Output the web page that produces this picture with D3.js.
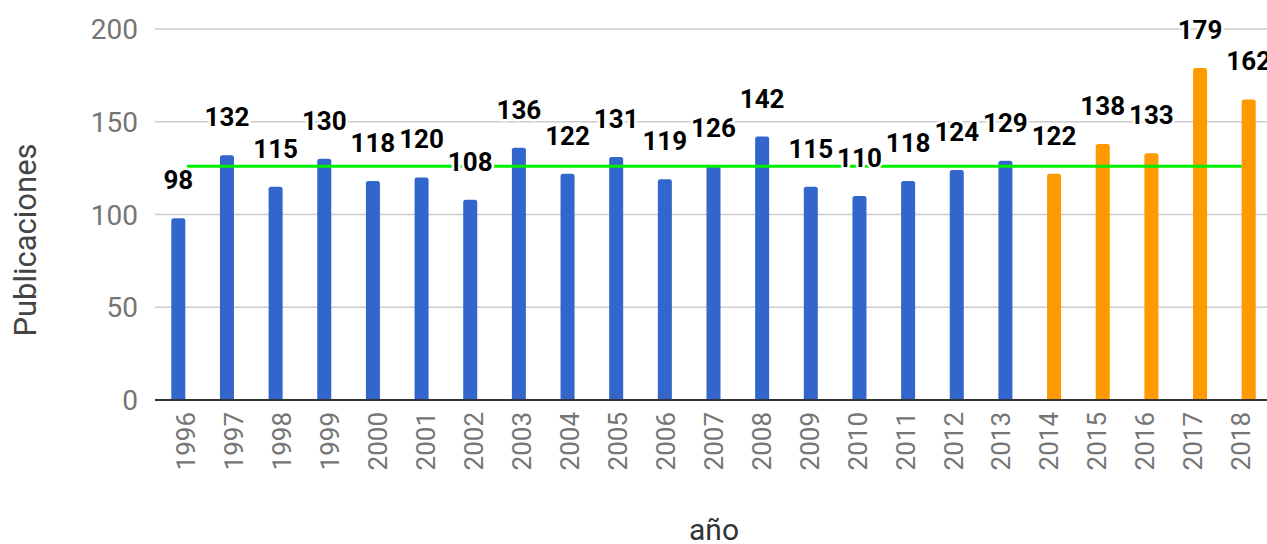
<!DOCTYPE html>
<html>
<head>
<meta charset="utf-8">
<script src="https://cdn.jsdelivr.net/npm/d3@7"></script>
<style>
  body { margin: 0; background: #fff; }
  svg { display: block; font-family: Roboto, "Liberation Sans", Arial, sans-serif; }
</style>
</head>
<body>
<svg id="chart"></svg>
<script>
// data
var years = ["1996","1997","1998","1999","2000","2001","2002","2003","2004","2005","2006",
             "2007","2008","2009","2010","2011","2012","2013","2014","2015","2016","2017","2018"]
var publicaciones = [98,132,115,130,118,120,108,136,122,131,119,126,142,115,110,118,124,129,122,138,133,179,162]
var orangeFrom = "2014"      // years from here on are drawn orange
var promedio = 126           // green horizontal line
var yTicks = [0, 50, 100, 150, 200]

var dimensions = {
    width: 1267,
    height: 544,
    margin: { top: 29, bottom: 144, left: 155, right: 0 }
}

var svg = d3.select("#chart")
            .attr("width", dimensions.width)
            .attr("height", dimensions.height)

var yScale = d3.scaleLinear()
               .domain([0, 200])
               .range([dimensions.height - dimensions.margin.bottom, dimensions.margin.top])

var xScale = d3.scaleBand()
               .domain(years)
               .range([153, 1274])
               .paddingInner(0.712)
               .paddingOuter(0.376)

// year labels sit a little closer together than the bars
var xLabelScale = d3.scalePoint()
                    .domain(years)
                    .range([185.5, 1241])

// gridlines + y labels
var grid = svg.append("g")
grid.selectAll("line")
    .data(yTicks.filter(d => d != 0))
    .enter()
    .append("line")
    .attr("x1", dimensions.margin.left)
    .attr("x2", dimensions.width)
    .attr("y1", d => yScale(d))
    .attr("y2", d => yScale(d))
    .attr("stroke", "#cccccc")
    .attr("stroke-width", 1.5)

grid.selectAll("text")
    .data(yTicks)
    .enter()
    .append("text")
    .attr("x", 138)
    .attr("y", d => yScale(d))
    .attr("dy", "0.36em")
    .attr("text-anchor", "end")
    .attr("fill", "#757575")
    .style("font-size", "28px")
    .text(d => d)

// bars with slightly rounded tops
function barPath(d, i){
    var x0 = xScale(years[i]), w = xScale.bandwidth()
    var y0 = yScale(0), y1 = yScale(d), r = 2.5
    return "M" + x0 + "," + y0 +
           "V" + (y1 + r) +
           "Q" + x0 + "," + y1 + " " + (x0 + r) + "," + y1 +
           "H" + (x0 + w - r) +
           "Q" + (x0 + w) + "," + y1 + " " + (x0 + w) + "," + (y1 + r) +
           "V" + y0 + "Z"
}

svg.append("g")
   .selectAll("path")
   .data(publicaciones)
   .enter()
   .append("path")
   .attr("d", barPath)
   .attr("fill", (d, i) => years[i] >= orangeFrom ? "#ff9900" : "#3366cc")

// x baseline
svg.append("line")
   .attr("x1", dimensions.margin.left)
   .attr("x2", dimensions.width)
   .attr("y1", yScale(0))
   .attr("y2", yScale(0))
   .attr("stroke", "#333333")
   .attr("stroke-width", 2)

// green average line
svg.append("line")
   .attr("x1", xScale(years[0]) + xScale.bandwidth() + 1.5)
   .attr("x2", xScale(years[years.length - 1]))
   .attr("y1", yScale(promedio))
   .attr("y2", yScale(promedio))
   .attr("stroke", "#00ee00")
   .attr("stroke-width", 3)

// value labels with white halo
svg.append("g")
   .selectAll("text")
   .data(publicaciones)
   .enter()
   .append("text")
   .attr("x", (d, i) => xScale(years[i]) + xScale.bandwidth() / 2)
   .attr("y", d => yScale(d) - 29)
   .attr("text-anchor", "middle")
   .attr("font-weight", "bold")
   .style("font-size", "26px")
   .attr("fill", "#000")
   .attr("stroke", "#fff")
   .attr("stroke-width", 5)
   .attr("stroke-linejoin", "round")
   .attr("paint-order", "stroke")
   .text(d => d)

// year labels, rotated
svg.append("g")
   .selectAll("text")
   .data(years)
   .enter()
   .append("text")
   .attr("transform", d => "translate(" + xLabelScale(d) + "," + (yScale(0) + 12) + ") rotate(-90)")
   .attr("dy", "0.36em")
   .attr("text-anchor", "end")
   .attr("fill", "#757575")
   .style("font-size", "26px")
   .text(d => d)

// axis titles
svg.append("text")
   .attr("transform", "translate(36,240) rotate(-90)")
   .attr("text-anchor", "middle")
   .attr("fill", "#444444")
   .style("font-size", "31px")
   .text("Publicaciones")

svg.append("text")
   .attr("x", 714)
   .attr("y", 540)
   .attr("text-anchor", "middle")
   .attr("fill", "#333333")
   .style("font-size", "30px")
   .text("año")
</script>
</body>
</html>
